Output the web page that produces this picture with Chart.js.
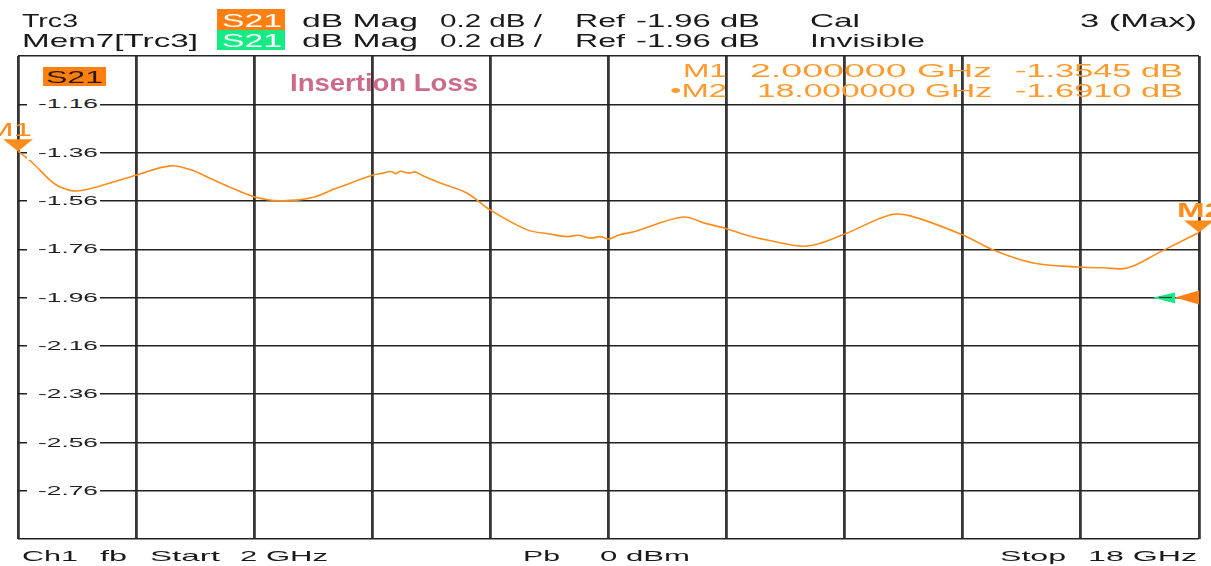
<!DOCTYPE html>
<html>
<head>
<meta charset="utf-8">
<script src="https://cdn.jsdelivr.net/npm/chart.js@4.4.1/dist/chart.umd.min.js"></script>
<style>
    html, body { margin: 0; padding: 0; background: #fff; }
    #wrap { position: relative; width: 1211px; height: 566px; overflow: hidden; font-family: "Liberation Sans", Arial, sans-serif; }
    #wrap canvas { position: absolute; left: 0; top: 0; }
    .t { position: absolute; white-space: pre; transform-origin: 0 50%; line-height: 1; color: #1a1a1a; }
    .box { position: absolute; }
</style>
</head>
<body>
<div id="wrap"><canvas id="vna" width="1211" height="566"></canvas></div>
<script>
// trace (GHz / dB)
const freqGHz = [2.0, 2.2, 2.43, 2.57, 2.79, 3.11, 3.61, 4.06, 4.35, 4.6, 4.87, 5.21, 5.55, 5.96, 6.32, 6.81, 6.95,
    7.05, 7.12, 7.18, 7.3, 7.38, 7.5, 7.72, 8.08, 8.4, 8.9, 9.2, 9.44, 9.6, 9.75, 9.89, 10.0,
    10.15, 10.33, 11.01, 11.3, 11.61, 11.85, 12.15, 12.69, 13.2, 13.81, 14.09, 14.8, 15.21, 15.75, 16.39,
    16.7, 17.03, 17.47, 18.0];
const s21dB = [-1.3545, -1.403, -1.473, -1.502, -1.519, -1.498, -1.453, -1.415, -1.432, -1.466, -1.503, -1.544, -1.56, -1.548, -1.507, -1.453, -1.445,
    -1.438, -1.447, -1.437, -1.445, -1.44, -1.458, -1.486, -1.527, -1.598, -1.68, -1.697, -1.708, -1.702, -1.714, -1.708, -1.718,
    -1.7, -1.689, -1.627, -1.652, -1.676, -1.7, -1.722, -1.747, -1.697, -1.618, -1.622, -1.701, -1.763, -1.817, -1.834,
    -1.837, -1.838, -1.772, -1.691];

const xGrid = [2, 3.6, 5.2, 6.8, 8.4, 10, 11.6, 13.2, 14.8, 16.4, 18];
const yGrid = [-0.96, -1.16, -1.36, -1.56, -1.76, -1.96, -2.16, -2.36, -2.56, -2.76, -2.96];
const yTickLabels = ['-1.16', '-1.36', '-1.56', '-1.76', '-1.96', '-2.16', '-2.36', '-2.56', '-2.76'];

const markerNames = ['M1', 'M2'];
const markerFreq = [2, 18];
const markerDb = [-1.3545, -1.691];
const refLevel = -1.96;

const traceColor = '#ff8c1a';
const orange = '#ff7f11';
const green = '#14eb84';

const wrap = document.getElementById('wrap');

function addBox(x, y, w, h, color) {
    const b = document.createElement('div');
    b.className = 'box';
    b.style.left = x + 'px'; b.style.top = y + 'px';
    b.style.width = w + 'px'; b.style.height = h + 'px';
    b.style.background = color;
    wrap.appendChild(b);
}

// text stretched to the width it has on the analyzer screen
function addText(txt, x, cy, w, opt = {}) {
    const s = document.createElement('span');
    s.className = 't';
    s.textContent = txt;
    const fs = opt.size || 19;
    s.style.fontSize = fs + 'px';
    if (opt.bold) s.style.fontWeight = 'bold';
    if (opt.color) s.style.color = opt.color;
    wrap.appendChild(s);
    const nat = s.getBoundingClientRect().width;
    s.style.left = x + 'px';
    s.style.top = (cy - fs * 0.49) + 'px';
    s.style.transform = 'scaleX(' + (w / nat) + ')';
    return s;
}

const markerPlugin = {
    id: 'markers',
    afterDatasetsDraw(chart) {
        const { ctx, scales: { x, y } } = chart;
        ctx.save();
        ctx.fillStyle = traceColor;
        markerFreq.forEach((f, i) => {
            const px = x.getPixelForValue(f), py = y.getPixelForValue(markerDb[i]);
            ctx.beginPath();
            ctx.moveTo(px - 15, py - 12);
            ctx.lineTo(px + 15, py - 12);
            ctx.lineTo(px, py);
            ctx.closePath();
            ctx.fill();
        });
        // reference level arrows (trace + memory)
        const ry = y.getPixelForValue(refLevel), rx = x.right;
        ctx.fillStyle = green;
        ctx.beginPath();
        ctx.moveTo(rx - 24, ry - 5); ctx.lineTo(rx - 24, ry + 6); ctx.lineTo(rx - 46, ry);
        ctx.closePath(); ctx.fill();
        ctx.strokeStyle = '#333'; ctx.lineWidth = 1.2;
        ctx.beginPath(); ctx.moveTo(rx - 40, ry); ctx.lineTo(rx - 27, ry); ctx.stroke();
        ctx.fillStyle = orange;
        ctx.beginPath();
        ctx.moveTo(rx, ry - 7); ctx.lineTo(rx, ry + 7); ctx.lineTo(rx - 24, ry);
        ctx.closePath(); ctx.fill();
        ctx.restore();
    }
};

const chart = new Chart(document.getElementById('vna'), {
    type: 'line',
    data: {
        datasets: [{
            data: freqGHz.map((f, i) => ({ x: f, y: s21dB[i] })),
            borderColor: traceColor,
            borderWidth: 1.6,
            pointRadius: 0,
            tension: 0.35,
            fill: false
        }]
    },
    options: {
        responsive: false,
        animation: false,
        layout: { padding: { left: 18, right: 12, top: 56, bottom: 27 } },
        plugins: { legend: { display: false }, tooltip: { enabled: false } },
        scales: {
            x: {
                type: 'linear', min: 2, max: 18,
                afterBuildTicks: s => { s.ticks = xGrid.map(v => ({ value: v })); },
                ticks: { display: false },
                grid: { color: '#363636', lineWidth: 2.8, drawTicks: false },
                border: { display: false }
            },
            y: {
                min: -2.96, max: -0.96,
                afterBuildTicks: s => { s.ticks = yGrid.map(v => ({ value: v })); },
                ticks: { display: false },
                grid: { color: '#222', lineWidth: 1.4, drawTicks: false },
                border: { display: false }
            }
        }
    },
    plugins: [markerPlugin]
});

// header
addText('Trc3', 22, 20, 56);
addBox(217, 9, 68, 21, orange);
addText('S21', 222, 20, 60, { color: '#fff' });
addText('dB Mag', 302, 20, 116);
addText('0.2 dB /', 440, 20, 102);
addText('Ref', 575, 20, 50);
addText('-1.96 dB', 636, 20, 124);
addText('Cal', 810, 20, 50);
addText('3 (Max)', 1080, 20, 117);

addText('Mem7[Trc3]', 22, 40, 176);
addBox(217, 30, 68, 20, green);
addText('S21', 222, 40, 60, { color: '#fff' });
addText('dB Mag', 302, 40, 116);
addText('0.2 dB /', 440, 40, 102);
addText('Ref', 575, 40, 50);
addText('-1.96 dB', 636, 40, 124);
addText('Invisible', 810, 40, 115);

// footer
addText('Ch1', 22, 555, 56, { size: 15 });
addText('fb', 100, 555, 27, { size: 15 });
addText('Start', 150, 555, 70, { size: 15 });
addText('2 GHz', 240, 555, 88, { size: 15 });
addText('Pb', 523, 555, 37, { size: 15 });
addText('0 dBm', 600, 555, 90, { size: 15 });
addText('Stop', 1000, 555, 66, { size: 15 });
addText('18 GHz', 1088, 555, 109, { size: 15 });

// y labels sit inside the first grid column
const ys = chart.scales.y, xs = chart.scales.x;
yTickLabels.forEach(lbl => {
    const py = ys.getPixelForValue(parseFloat(lbl));
    addBox(27, py - 7, 73, 14, '#fff');
    addText(lbl, 38, py, 60, { size: 12, color: '#222' });
});

// trace title and label
addBox(43, 67, 63, 19, orange);
addText('S21', 46, 77, 57, { size: 17, color: '#2a1a0a' });
addText('Insertion Loss', 290, 83, 188, { size: 24, bold: true, color: '#cc6a8c' });

// marker readout
addText('M1', 683, 71, 44, { size: 18, color: '#ff9a2e' });
addText('2.000000 GHz', 750, 71, 242, { size: 18, color: '#ff9a2e' });
addText('-1.3545 dB', 1015, 71, 168, { size: 18, color: '#ff9a2e' });
addText('\u2022M2', 670, 91, 57, { size: 18, color: '#ff9a2e' });
addText('18.000000 GHz', 757, 91, 235, { size: 18, color: '#ff9a2e' });
addText('-1.6910 dB', 1015, 91, 168, { size: 18, color: '#ff9a2e' });

// marker tags above the triangles
markerNames.forEach((m, i) => {
    const px = xs.getPixelForValue(markerFreq[i]), py = ys.getPixelForValue(markerDb[i]);
    if (i === 0) addText(m, px - 32, py - 21, 46, { size: 18, color: traceColor });
    else addText(m, px - 22, py - 23, 46, { size: 20, bold: true, color: traceColor });
});
</script>
</body>
</html>
